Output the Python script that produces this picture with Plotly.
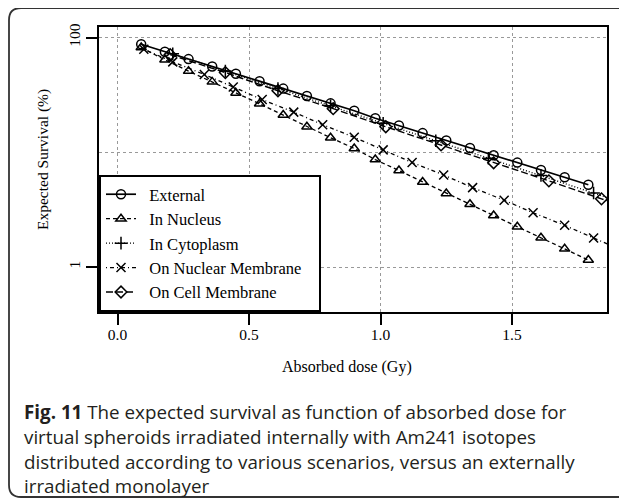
import plotly.graph_objects as go

# ---------------- data ----------------
dose_external = [0.09, 0.18, 0.27, 0.36, 0.45, 0.54, 0.63, 0.72, 0.81, 0.90,
                 0.98, 1.07, 1.16, 1.25, 1.34, 1.43, 1.52, 1.61, 1.70, 1.79]
surv_external = [87.4, 75.3, 64.9, 56.0, 48.3, 41.6, 35.9, 30.9, 26.7, 23.0,
                 19.8, 17.1, 14.7, 12.7, 10.9, 9.43, 8.13, 7.00, 6.05, 5.21]

dose_nucleus = dose_external
surv_nucleus = [81.8, 64.0, 51.0, 41.1, 32.9, 26.5, 21.1, 16.7, 13.4, 10.8,
                8.64, 6.93, 5.50, 4.38, 3.52, 2.81, 2.24, 1.80, 1.44, 1.15]

dose_cytoplasm = [0.21, 0.41, 0.61, 0.81, 1.01, 1.21, 1.41, 1.61, 1.81, 2.01]
surv_cytoplasm = [72.3, 51.0, 35.9, 25.4, 17.9, 12.6, 8.88, 6.27, 4.42, 3.11]

dose_nuc_membrane = [0.10, 0.21, 0.33, 0.44, 0.55, 0.67, 0.78, 0.90, 1.01,
                     1.12, 1.24, 1.35, 1.47, 1.58, 1.70, 1.81, 1.92]
surv_nuc_membrane = [79.0, 61.4, 47.7, 37.1, 28.8, 22.4, 17.4, 13.5, 10.5,
                     8.15, 6.34, 4.92, 3.82, 2.97, 2.31, 1.79, 1.39]

dose_cell_membrane = [0.20, 0.41, 0.61, 0.82, 1.02, 1.23, 1.43, 1.64, 1.84, 2.05]
surv_cell_membrane = [71.0, 49.5, 34.4, 24.0, 16.7, 11.6, 8.10, 5.64, 3.93, 2.74]

series_names = ["External", "In Nucleus", "In Cytoplasm",
                "On Nuclear Membrane", "On Cell Membrane"]

x_tick_vals = [0.0, 0.5, 1.0, 1.5]
x_tick_text = ["0.0", "0.5", "1.0", "1.5"]
y_tick_vals = [1, 100]
y_tick_text = ["1", "100"]

caption_lines = [
    "<b>Fig. 11</b> The expected survival as function of absorbed dose for",
    "virtual spheroids irradiated internally with Am241 isotopes",
    "distributed according to various scenarios, versus an externally",
    "irradiated monolayer",
]

# ---------------- layout geometry (page pixels) ----------------
OFF = 8                      # default body margin of the html page
PAGE_W, PAGE_H = 627, 500
W, H = PAGE_W - OFF, PAGE_H - OFF
PLOT_L, PLOT_R, PLOT_T, PLOT_B = 99, 607, 27, 312   # page pixels
L = PLOT_L - OFF
T = PLOT_T - OFF
R = PAGE_W - PLOT_R
B = PAGE_H - PLOT_B
PW, PH = W - L - R, H - T - B


def px2x(px):
    return (px - PLOT_L) / PW


def py2y(py):
    return (PLOT_B - py) / PH


SERIF = "Liberation Serif, Times New Roman, serif"

styles = [
    dict(dash="solid", symbol="circle-open", width=1.7),
    dict(dash="4px,3px", symbol="triangle-up-open", width=1.3),
    dict(dash="1px,2px", symbol="cross-thin-open", width=1.4),
    dict(dash="1px,3px,4px,3px", symbol="x-thin-open", width=1.3),
    dict(dash="7px,3px", symbol="diamond-open", width=1.4),
]
data = [
    (dose_external, surv_external),
    (dose_nucleus, surv_nucleus),
    (dose_cytoplasm, surv_cytoplasm),
    (dose_nuc_membrane, surv_nuc_membrane),
    (dose_cell_membrane, surv_cell_membrane),
]

NB = "\u00a0"
longest = max(len(n) for n in series_names)

fig = go.Figure()
for name, (xs, ys), st in zip(series_names, data, styles):
    label = NB * 2 + name + (NB * 3 if len(name) == longest else "")
    fig.add_trace(go.Scatter(
        x=xs, y=ys, mode="lines+markers",
        name=label,
        line=dict(color="black", width=st["width"], dash=st["dash"]),
        marker=dict(symbol=st["symbol"], size=9, color="black",
                    line=dict(color="black", width=1.5)),
    ))

fig.update_layout(
    width=W, height=H,
    margin=dict(l=L, r=R, t=T, b=B),
    paper_bgcolor="white", plot_bgcolor="white",
    font=dict(family=SERIF, size=15.5, color="black"),
    showlegend=True,
    legend=dict(
        x=0, y=0, xanchor="left", yanchor="bottom",
        bgcolor="white", bordercolor="black", borderwidth=2,
        font=dict(family=SERIF, size=16.5, color="black"),
        tracegroupgap=0,
    ),
)

fig.update_xaxes(
    range=[-0.0704, 1.861],
    tickvals=x_tick_vals, ticktext=x_tick_text,
    ticks="outside", ticklen=11, tickwidth=2, tickcolor="black",
    ticklabelstandoff=-4,
    showline=True, linewidth=2, linecolor="black", mirror=True,
    showgrid=True, gridcolor="#999999", griddash="dot", gridwidth=1,
    zeroline=False,
    tickfont=dict(family=SERIF, size=15.5),
)
fig.update_yaxes(
    type="log", range=[-0.392, 2.092],
    tickvals=y_tick_vals, ticktext=y_tick_text, tickangle=-90,
    ticks="outside", ticklen=11, tickwidth=2, tickcolor="black",
    showline=True, linewidth=2, linecolor="black", mirror=True,
    showgrid=True, gridcolor="#999999", griddash="dot", gridwidth=1,
    zeroline=False,
    tickfont=dict(family=SERIF, size=15.5),
    minor=dict(tickvals=[10], showgrid=True, gridcolor="#999999",
               griddash="dot", gridwidth=1, ticks=""),
)

# axis titles
fig.add_annotation(text="Absorbed dose (Gy)", xref="paper", yref="paper",
                   x=px2x(347), y=py2y(367), showarrow=False,
                   xanchor="center", yanchor="middle",
                   font=dict(family=SERIF, size=16, color="black"))
fig.add_annotation(text="Expected Survival (%)", xref="paper", yref="paper",
                   x=px2x(43), y=py2y(160), showarrow=False, textangle=-90,
                   xanchor="center", yanchor="middle",
                   font=dict(family=SERIF, size=15.5, color="black"))

# caption
cap_y = [412, 437, 462, 486]
for line, cy in zip(caption_lines, cap_y):
    fig.add_annotation(text=line, xref="paper", yref="paper",
                       x=px2x(22), y=py2y(cy), showarrow=False,
                       xanchor="left", yanchor="middle",
                       font=dict(family="Open Sans, sans-serif", size=18.8,
                                 color="#231f20"))

# rounded outer frame
fl, ft, fr, fb, rad = 9, 8, 650, 497, 12
path = (
    f"M {px2x(fl)},{py2y(ft + rad)} "
    f"L {px2x(fl)},{py2y(fb - rad)} "
    f"Q {px2x(fl)},{py2y(fb)} {px2x(fl + rad)},{py2y(fb)} "
    f"L {px2x(fr - rad)},{py2y(fb)} "
    f"Q {px2x(fr)},{py2y(fb)} {px2x(fr)},{py2y(fb - rad)} "
    f"L {px2x(fr)},{py2y(ft + rad)} "
    f"Q {px2x(fr)},{py2y(ft)} {px2x(fr - rad)},{py2y(ft)} "
    f"L {px2x(fl + rad)},{py2y(ft)} "
    f"Q {px2x(fl)},{py2y(ft)} {px2x(fl)},{py2y(ft + rad)} Z"
)
fig.add_shape(type="path", path=path, xref="paper", yref="paper",
              line=dict(color="#333333", width=1.8), fillcolor="rgba(0,0,0,0)",
              layer="below")

fig.write_html("out.html")
